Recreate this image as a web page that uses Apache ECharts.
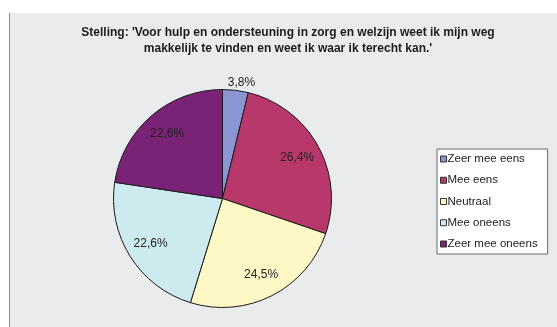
<!DOCTYPE html>
<html>
<head>
<meta charset="utf-8">
<script src="https://cdn.jsdelivr.net/npm/echarts@6/dist/echarts.min.js"></script>
<style>
html,body{margin:0;padding:0;background:#fff;}
#bg{position:absolute;left:9px;top:13px;right:0;bottom:0;background:#e9ebec;border-left:1px solid #8c8c8c;}
#chart{position:absolute;left:0;top:0;width:557px;height:327px;}
</style>
</head>
<body>
<div id="bg"></div>
<div id="chart"></div>
<script>
var titleLines = ["Stelling: 'Voor hulp en ondersteuning in zorg en welzijn weet ik mijn weg", "makkelijk te vinden en weet ik waar ik terecht kan.'"];
var categories = ["Zeer mee eens", "Mee eens", "Neutraal", "Mee oneens", "Zeer mee oneens"];
var values = [3.8, 26.4, 24.5, 22.6, 22.6];
var colors = ["#8b95d2", "#b9386c", "#fdf8c6", "#cdebef", "#7a2276"];

function fmt(v){ return v.toFixed(1).replace('.', ',') + '%'; }

var chart = echarts.init(document.getElementById('chart'), null, {renderer:'canvas'});
var font = "'Liberation Sans', Arial, sans-serif";
var center = [222.5, 198.5];
var R = 109;

var mainData = categories.map(function(c, i){
  return {
    name: c, value: values[i],
    itemStyle: {color: colors[i]},
    label: {show: i === 0}
  };
});
var overlayData = categories.map(function(c, i){
  return {
    name: c, value: values[i],
    label: {show: i !== 0}
  };
});

chart.setOption({
  animation: false,
  textStyle: {fontFamily: font},
  title: {
    text: titleLines.join('\n'),
    left: 283, top: 20, textAlign: 'center',
    textStyle: {fontFamily: font, fontSize: 12, fontWeight: 'bold', color: '#1c1c1c', lineHeight: 16}
  },
  legend: {
    data: categories,
    orient: 'vertical',
    left: 437, top: 149,
    backgroundColor: '#ffffff',
    borderColor: '#6a6a6a', borderWidth: 1, borderRadius: 0,
    padding: [3, 10, 3, 3],
    itemGap: 7.25,
    itemWidth: 6, itemHeight: 6,
    icon: 'rect',
    itemStyle: {borderColor: '#333', borderWidth: 1},
    textStyle: {fontFamily: font, fontSize: 11.5, color: '#222', lineHeight: 14, padding: [0, 0, 0, -4]}
  },
  series: [
    {
      type: 'pie',
      center: center, radius: R,
      startAngle: 90, clockwise: true,
      avoidLabelOverlap: false,
      itemStyle: {borderColor: '#1a1a1a', borderWidth: 1},
      label: {
        position: 'outside', fontFamily: font, fontSize: 12, color: '#222',
        formatter: function(p){ return fmt(p.value); }
      },
      labelLine: {show: false, length: 8, length2: 0},
      labelLayout: function(p){ return p.dataIndex === 0 ? {align: 'center'} : {}; },
      emphasis: {disabled: true},
      data: mainData
    },
    {
      type: 'pie',
      center: center, radius: [55, R],
      startAngle: 90, clockwise: true,
      silent: true,
      avoidLabelOverlap: false,
      itemStyle: {color: 'rgba(0,0,0,0)', borderWidth: 0},
      label: {
        position: 'inside', fontFamily: font, fontSize: 12, color: '#222',
        formatter: function(p){ return fmt(p.value); }
      },
      labelLine: {show: false},
      emphasis: {disabled: true},
      data: overlayData
    }
  ]
});
</script>
</body>
</html>
